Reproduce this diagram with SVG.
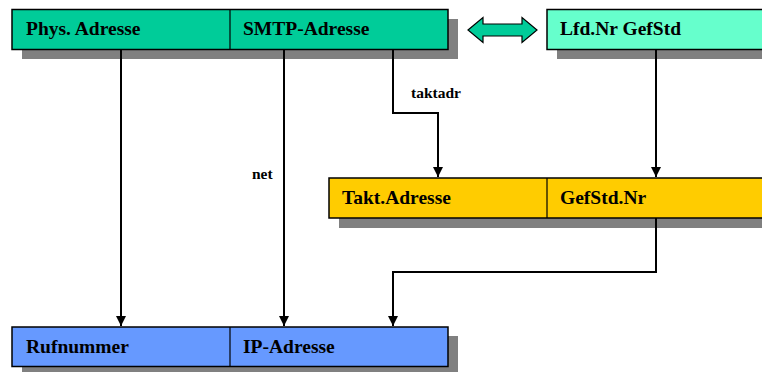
<svg xmlns="http://www.w3.org/2000/svg" width="762" height="372" viewBox="0 0 762 372">
<style>
.sh{fill:#808080}
.box{stroke:#000;stroke-width:1.5}
.lbl{font-family:"Liberation Serif","Times New Roman",serif;font-weight:bold;font-size:19.5px;fill:#000}
.small{font-family:"Liberation Serif","Times New Roman",serif;font-weight:bold;font-size:15.5px;fill:#000}
.con{fill:none;stroke:#000;stroke-width:2;marker-end:url(#ah)}
</style>
<defs>
<marker id="ah" viewBox="0 0 10 10" refX="10" refY="5" markerWidth="10" markerHeight="10" markerUnits="userSpaceOnUse" orient="auto">
<path d="M0,0 L10,5 L0,10 Z" fill="#000"/>
</marker>
</defs>
<rect width="762" height="372" fill="#fff"/>
<g id="top">
<rect class="sh" x="22" y="19" width="436" height="40"/>
<rect class="box" x="12" y="9.5" width="436" height="40" fill="#00CC99"/>
<line x1="230" y1="9.5" x2="230" y2="49.5" stroke="#000" stroke-width="1.2"/>
<text class="lbl" x="26" y="35">Phys. Adresse</text>
<text class="lbl" x="243" y="35">SMTP-Adresse</text>
</g>
<g id="lfd">
<rect class="sh" x="557" y="19" width="220" height="40"/>
<rect class="box" x="547" y="9.5" width="220" height="40" fill="#66FFCC"/>
<text class="lbl" x="560" y="35">Lfd.Nr GefStd</text>
</g>
<g id="dblarrow">
<path d="M468,30 L483,17.5 L483,24 L522,24 L522,17.5 L537,30 L522,42.5 L522,36 L483,36 L483,42.5 Z" fill="#00CC99" stroke="#000" stroke-width="1.2"/>
</g>
<g id="mid">
<rect class="sh" x="339" y="188" width="430" height="40"/>
<rect class="box" x="329" y="178" width="440" height="40" fill="#FFCC00"/>
<line x1="547" y1="178" x2="547" y2="218" stroke="#000" stroke-width="1.2"/>
<text class="lbl" x="342" y="204">Takt.Adresse</text>
<text class="lbl" x="560" y="204">GefStd.Nr</text>
</g>
<g id="bottom">
<rect class="sh" x="22" y="336" width="436" height="40"/>
<rect class="box" x="12" y="327" width="436" height="39.5" fill="#6699FF"/>
<line x1="230" y1="327" x2="230" y2="366.5" stroke="#000" stroke-width="1.2"/>
<text class="lbl" x="26" y="353">Rufnummer</text>
<text class="lbl" x="243" y="353">IP-Adresse</text>
</g>
<g id="connectors">
<path class="con" d="M121,49.5 V326"/>
<path class="con" d="M284,49.5 V326"/>
<path class="con" d="M393,49.5 V113 H438 V177"/>
<path class="con" d="M656,49.5 V177"/>
<path class="con" d="M656,218 V272 H393 V326"/>
<text class="small" x="411" y="98">taktadr</text>
<text class="small" x="252" y="179">net</text>
</g>
</svg>
